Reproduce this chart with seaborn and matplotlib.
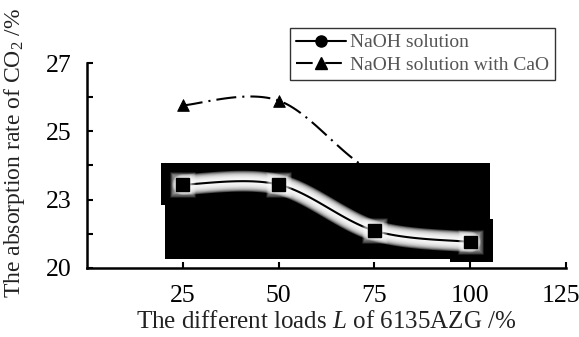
import numpy as np
import pandas as pd
import seaborn as sns
import matplotlib.pyplot as plt
import matplotlib.transforms as mtrans
import matplotlib.patheffects as pe
from matplotlib.lines import Line2D
from matplotlib.patches import Rectangle
from matplotlib.ticker import FixedLocator, FixedFormatter

# data
loads = [25, 50, 75, 100]
naoh = [23.44, 23.44, 22.09, 21.76]
naoh_cao = [25.76, 25.90, 23.80, 23.40]   # last two hidden behind the black block
y_ticks = [21, 23, 25, 27]
y_tick_labels = ['20', '23', '25', '27']
x_ticks = [25, 50, 75, 100, 125]

sns.set_theme(style='ticks')
plt.rcParams['font.family'] = ['Liberation Serif', 'DejaVu Serif']
plt.rcParams['mathtext.fontset'] = 'custom'
plt.rcParams['mathtext.rm'] = 'Liberation Serif'
plt.rcParams['mathtext.it'] = 'Liberation Serif:italic'


def smooth(xs, ys, n=40):
    # excel-like smoothed line (catmull-rom bezier)
    p = np.column_stack([xs, ys]).astype(float)
    p = np.vstack([p[0], p, p[-1]])
    out = []
    t = np.linspace(0, 1, n)[:, None]
    for i in range(1, len(p) - 2):
        p0, p3 = p[i], p[i + 1]
        c1 = p0 + (p[i + 1] - p[i - 1]) / 6
        c2 = p3 - (p[i + 2] - p[i]) / 6
        seg = (1 - t) ** 3 * p0 + 3 * (1 - t) ** 2 * t * c1 + 3 * (1 - t) * t ** 2 * c2 + t ** 3 * p3
        out.append(seg)
    out = np.vstack(out)
    return pd.DataFrame({'x': out[:, 0], 'y': out[:, 1]})


fig = plt.figure(figsize=(5.79, 3.37), dpi=100)
ax = fig.add_axes([0.150, 0.205, 0.828, 0.608])

dash_dot = (0, (9.6, 2.9, 1.0, 2.9))

# CaO series (sits under the black block)
sm_cao = smooth(loads, naoh_cao)
sns.lineplot(data=sm_cao, x='x', y='y', ax=ax, color='black', lw=1.5,
             sort=False, estimator=None, zorder=2)
ax.lines[-1].set_linestyle(dash_dot)
sns.scatterplot(x=loads, y=naoh_cao, ax=ax, marker='^', s=70, color='black',
                edgecolor='black', zorder=2.5)

# the black block over the middle of the plot
for (x0, y0, w, h) in [(19.3, 22.84, 85.9, 1.23), (20.4, 21.26, 84.8, 1.6),
                       (94.7, 21.18, 11.2, 1.25)]:
    ax.add_patch(Rectangle((x0, y0), w, h, facecolor='black', edgecolor='none', zorder=3))

# NaOH series with soft white glow
glow = [pe.Stroke(linewidth=w, foreground='white', alpha=0.27)
        for w in np.linspace(15, 2.5, 12)] + [pe.Normal()]
sm_naoh = smooth(loads, naoh)
sns.lineplot(data=sm_naoh, x='x', y='y', ax=ax, color='black', lw=1.5,
             sort=False, estimator=None, zorder=4)
ax.lines[-1].set_path_effects(glow)
mglow = [pe.Stroke(linewidth=w, foreground='white', alpha=0.14)
         for w in np.linspace(9, 1, 8)] + [pe.Normal()]
ax.plot(loads, naoh, ls='none', marker='s', ms=9, color='black', zorder=5,
        path_effects=mglow)

ax.set_xlim(0, 125)
ax.set_ylim(21, 27)
ax.xaxis.set_major_locator(FixedLocator(x_ticks))
ax.yaxis.set_major_locator(FixedLocator(y_ticks))
ax.yaxis.set_major_formatter(FixedFormatter(y_tick_labels))
ax.yaxis.set_minor_locator(FixedLocator([22, 24, 26]))
ax.tick_params(axis='both', which='both', direction='in', width=1.5, length=4,
               colors='black', labelsize=18.5)
ax.tick_params(axis='y', pad=11)
ax.tick_params(axis='x', pad=12)
sns.despine(ax=ax)
for s in ['left', 'bottom']:
    ax.spines[s].set_linewidth(1.8)
    ax.spines[s].set_color('black')

# the last x label sits a little left of its tick in the original
last = ax.xaxis.get_major_ticks()[-1]
last.label1.set_horizontalalignment('right')
last.label1.set_transform(last.label1.get_transform() +
                          mtrans.ScaledTranslation(10 / 72, 0, fig.dpi_scale_trans))

ax.set_xlabel('The different loads $L$ of 6135AZG /%', fontsize=18, color='#222222', labelpad=3)
ax.set_ylabel('The absorption rate of CO$_2$ /%', fontsize=17, color='#222222')
ax.yaxis.set_label_coords(-0.125, 0.56)

handles = [Line2D([], [], color='black', lw=1.5, marker='o', ms=8),
           Line2D([], [], color='black', lw=1.5, marker='^', ms=8, ls=(0, (8, 3, 1, 2)))]
leg = fig.legend(handles, ['NaOH solution', 'NaOH solution with CaO'],
                 loc='upper right', bbox_to_anchor=(0.9585, 0.917),
                 fontsize=14, frameon=True, fancybox=False, handlelength=2.6,
                 handletextpad=0.2, borderpad=0.3, labelspacing=0.25,
                 borderaxespad=0)
leg.get_frame().set_edgecolor('black')
leg.get_frame().set_linewidth(1.0)
for t in leg.get_texts():
    t.set_color('#555555')

fig.savefig('out.png', dpi=100)
